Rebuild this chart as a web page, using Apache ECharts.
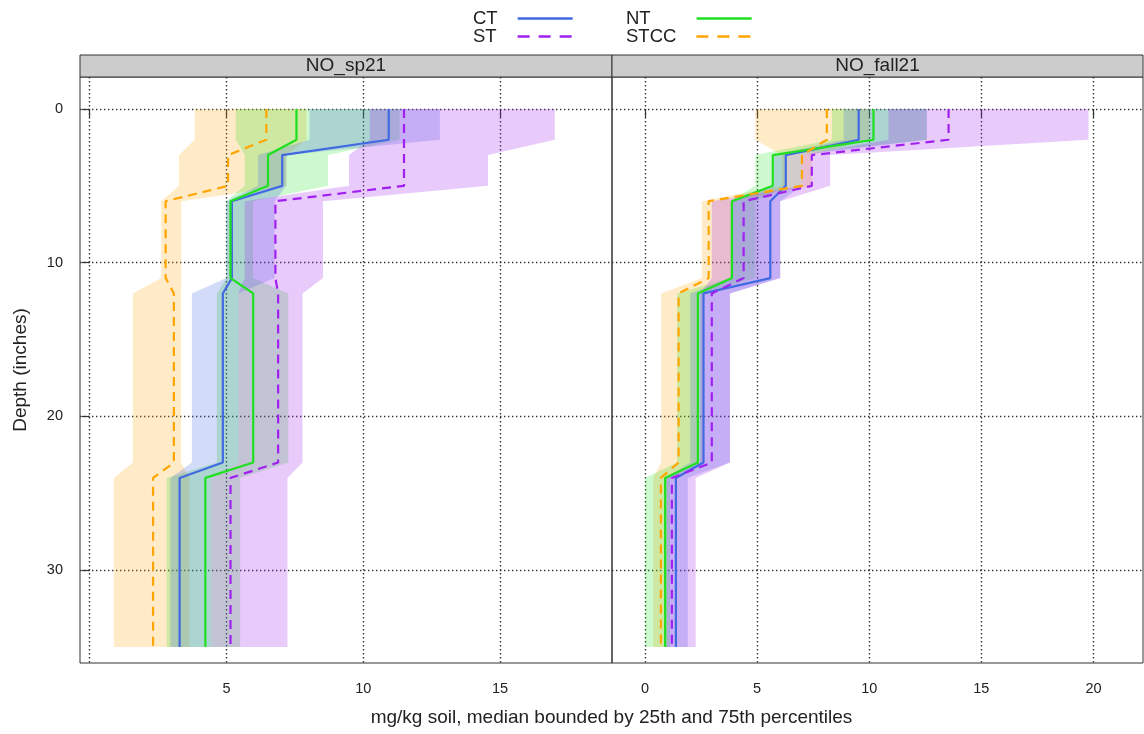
<!DOCTYPE html>
<html><head><meta charset="utf-8">
<script src="https://cdn.jsdelivr.net/npm/echarts@6/dist/echarts.min.js"></script>
<style>html,body{margin:0;padding:0;background:#fff}#c{width:1144px;height:734px}</style>
</head><body><div id="c"></div>
<script>
// depth breakpoints (inches)
const depths = [0, 2, 3, 5, 6, 11, 12, 23, 24, 35];
const groups = ['CT', 'ST', 'NT', 'STCC'];
const panelNames = ['NO_sp21', 'NO_fall21'];
const xTicksSp = [0, 5, 10, 15];
const xLabelsSp = [5, 10, 15];
const xTicksFall = [0, 5, 10, 15, 20];
const yTicks = [0, 10, 20, 30];

// NO_sp21 : median, 25th, 75th percentile at each depth breakpoint
const sp21_CT_med   = [10.93,10.93,7.04,7.04,5.20,5.20,4.87,4.87,3.29,3.29];
const sp21_CT_lo    = [8.04,8.04,6.15,6.15,5.00,5.00,3.74,3.74,2.95,2.95];
const sp21_CT_hi    = [12.80,12.80,7.19,7.19,6.76,6.76,5.43,5.43,4.45,4.45];
const sp21_NT_med   = [7.56,7.56,6.52,6.52,5.15,5.15,5.98,5.98,4.23,4.23];
const sp21_NT_lo    = [5.34,5.34,5.67,5.67,5.00,5.00,4.65,4.65,2.82,2.82];
const sp21_NT_hi    = [11.33,11.33,8.71,8.71,5.97,5.97,7.26,7.26,5.50,5.50];
const sp21_ST_med   = [11.49,11.49,11.49,11.49,6.79,6.79,6.89,6.89,5.15,5.15];
const sp21_ST_lo    = [10.24,10.24,9.48,9.48,5.67,5.67,5.43,5.43,4.45,4.45];
const sp21_ST_hi    = [17.00,17.00,14.56,14.56,8.53,8.53,7.78,7.78,7.23,7.23];
const sp21_STCC_med = [6.46,6.46,5.06,5.06,2.78,2.78,3.08,3.08,2.32,2.32];
const sp21_STCC_lo  = [3.84,3.84,3.27,3.27,2.62,2.62,1.58,1.58,0.89,0.89];
const sp21_STCC_hi  = [7.92,7.92,7.19,7.19,3.35,3.35,3.34,3.34,3.65,3.65];

// NO_fall21
const fall21_CT_med   = [9.53,9.53,6.28,6.28,5.59,5.59,2.61,2.61,1.38,1.38];
const fall21_CT_lo    = [8.86,8.86,5.75,5.75,3.88,3.88,2.02,2.02,0.90,0.90];
const fall21_CT_hi    = [12.57,12.57,7.00,7.00,6.03,6.03,3.79,3.79,1.91,1.91];
const fall21_NT_med   = [10.19,10.19,5.70,5.70,3.88,3.88,2.36,2.36,0.90,0.90];
const fall21_NT_lo    = [8.34,8.34,4.92,4.92,3.80,3.80,1.43,1.43,0.00,0.00];
const fall21_NT_hi    = [12.57,12.57,6.33,6.33,4.92,4.92,2.61,2.61,1.12,1.12];
const fall21_ST_med   = [13.54,13.54,7.44,7.44,4.40,4.40,2.98,2.98,1.20,1.20];
const fall21_ST_lo    = [10.86,10.86,7.00,7.00,2.98,2.98,2.45,2.45,0.97,0.97];
const fall21_ST_hi    = [19.78,19.78,8.26,8.26,6.03,6.03,3.79,3.79,2.26,2.26];
const fall21_STCC_med = [8.11,8.11,7.00,7.00,2.84,2.84,1.50,1.50,0.71,0.71];
const fall21_STCC_lo  = [4.92,4.92,6.10,6.10,2.54,2.54,0.72,0.72,0.37,0.37];
const fall21_STCC_hi  = [10.00,10.00,7.44,7.44,3.88,3.88,2.33,2.33,0.97,0.97];

const colors = {CT:'#4169E1', NT:'#1FE01F', ST:'#A020F0', STCC:'#FFA500'};
const fills  = {CT:'rgba(65,105,225,0.24)', NT:'rgba(31,224,31,0.22)', ST:'rgba(160,32,240,0.24)', STCC:'rgba(255,165,0,0.22)'};
const dashed = {CT:false, NT:false, ST:true, STCC:true};

const panelData = [
  {CT:[sp21_CT_med,sp21_CT_lo,sp21_CT_hi], NT:[sp21_NT_med,sp21_NT_lo,sp21_NT_hi],
   ST:[sp21_ST_med,sp21_ST_lo,sp21_ST_hi], STCC:[sp21_STCC_med,sp21_STCC_lo,sp21_STCC_hi]},
  {CT:[fall21_CT_med,fall21_CT_lo,fall21_CT_hi], NT:[fall21_NT_med,fall21_NT_lo,fall21_NT_hi],
   ST:[fall21_ST_med,fall21_ST_lo,fall21_ST_hi], STCC:[fall21_STCC_med,fall21_STCC_lo,fall21_STCC_hi]}
];

const FONT = 'Liberation Sans, Arial, Helvetica, sans-serif';
const TXT = '#222';

const series = [];
const bandOrder = ['STCC', 'NT', 'CT', 'ST'];
panelData.forEach((pd, p) => {
  bandOrder.forEach(g => {
    const [med, lo, hi] = pd[g];
    const fill = fills[g];
    series.push({
      type: 'custom', name: g + ' band ' + p, xAxisIndex: p, yAxisIndex: p,
      silent: true, z: 1, clip: true, animation: false,
      data: depths.map((d, i) => [lo[i], hi[i], d]),
      encode: {x: [0, 1], y: 2},
      renderItem: function (params, api) {
        if (params.dataIndexInside !== 0) return null;
        const n = params.dataInsideLength || depths.length;
        const left = [], right = [];
        for (let i = 0; i < n; i++) {
          left.push(api.coord([api.value(0, i), api.value(2, i)]));
          right.push(api.coord([api.value(1, i), api.value(2, i)]));
        }
        return {type: 'polygon', shape: {points: left.concat(right.reverse())}, style: {fill: fill}};
      }
    });
  });
});
panelData.forEach((pd, p) => {
  ['CT', 'NT', 'ST', 'STCC'].forEach(g => {
    const med = pd[g][0];
    series.push({
      type: 'line', name: g, xAxisIndex: p, yAxisIndex: p, z: 3,
      symbol: 'none', silent: true, animation: false,
      data: depths.map((d, i) => [med[i], d]),
      itemStyle: {color: colors[g]},
      lineStyle: {color: colors[g], width: 2.2, type: dashed[g] ? [9, 6] : 'solid'}
    });
  });
});

const splitStyle = {show: true, lineStyle: {color: '#333', width: 1.4, type: [1.4, 2.6]}};
function xAxisDef(idx, min, max, ticks, labels) {
  return {
    type: 'value', gridIndex: idx, min: min, max: max,
    axisLine: {show: false},
    axisTick: {show: true, length: 8, customValues: ticks, lineStyle: {color: '#333', width: 1.2}},
    axisLabel: {show: true, customValues: labels, margin: 18, fontSize: 14.5, color: TXT, fontFamily: FONT},
    splitLine: splitStyle
  };
}
function yAxisDef(idx, showLabels) {
  const a = {
    type: 'value', gridIndex: idx, inverse: true, min: -2.08, max: 36.04,
    axisLine: {show: false},
    axisTick: {show: showLabels, length: 8, customValues: yTicks, lineStyle: {color: '#333', width: 1.2}},
    axisLabel: {show: showLabels, customValues: yTicks, margin: 17, fontSize: 14.5, color: TXT, fontFamily: FONT},
    splitLine: splitStyle
  };
  if (showLabels) {
    a.name = 'Depth (inches)';
    a.nameLocation = 'middle';
    a.nameGap = 50;
    a.nameRotate = 90;
    a.nameTextStyle = {fontSize: 19, color: TXT, fontFamily: FONT};
  }
  return a;
}

function legendDef(name, left, top, padRight) {
  return {
    data: [name], left: left, top: top, orient: 'horizontal', align: 'right',
    padding: 0, itemGap: 0, itemWidth: 55, itemHeight: 14, selectedMode: false,
    itemStyle: {opacity: 0, borderWidth: 0},
    lineStyle: dashed[name] ? {width: 2.5, type: [12, 9]} : {width: 2.5},
    textStyle: {fontSize: 18.5, color: TXT, fontFamily: FONT, padding: [0, padRight, 0, 0]}
  };
}

const option = {
  animation: false,
  backgroundColor: '#fff',
  textStyle: {fontFamily: FONT},
  legend: [
    legendDef('CT', 473, 9, 15),
    legendDef('ST', 473, 27, 16),
    legendDef('NT', 626, 9, 41),
    legendDef('STCC', 626, 27, 15)
  ],
  grid: [
    {left: 80, top: 77, width: 532, height: 586, show: true, borderColor: '#333', borderWidth: 1, backgroundColor: 'transparent'},
    {left: 612, top: 77, width: 531, height: 586, show: true, borderColor: '#333', borderWidth: 1, backgroundColor: 'transparent'}
  ],
  xAxis: [
    xAxisDef(0, -0.35, 19.09, xTicksSp, xLabelsSp),
    xAxisDef(1, -1.47, 22.21, xTicksFall, xTicksFall)
  ],
  yAxis: [yAxisDef(0, true), yAxisDef(1, false)],
  graphic: [
    {type: 'rect', shape: {x: 80, y: 55, width: 532, height: 22}, style: {fill: '#cccccc', stroke: '#333', lineWidth: 1}},
    {type: 'rect', shape: {x: 612, y: 55, width: 531, height: 22}, style: {fill: '#cccccc', stroke: '#333', lineWidth: 1}},
    {type: 'text', x: 346, y: 66, style: {text: panelNames[0], fontSize: 19, fill: TXT, fontFamily: FONT, align: 'center', verticalAlign: 'middle'}},
    {type: 'text', x: 877.5, y: 66, style: {text: panelNames[1], fontSize: 19, fill: TXT, fontFamily: FONT, align: 'center', verticalAlign: 'middle'}},
    {type: 'text', x: 611.5, y: 718, style: {text: 'mg/kg soil, median bounded by 25th and 75th percentiles', fontSize: 19, fill: TXT, fontFamily: FONT, align: 'center', verticalAlign: 'middle'}}
  ],
  series: series
};

const chart = echarts.init(document.getElementById('c'));
chart.setOption(option);
</script>
</body></html>
